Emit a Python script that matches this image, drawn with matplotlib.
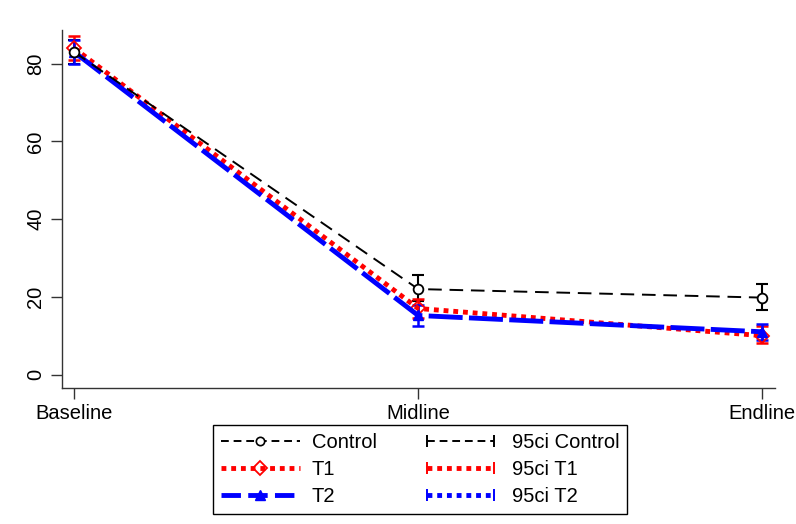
import matplotlib.pyplot as plt
from matplotlib.lines import Line2D
from matplotlib.legend_handler import HandlerLine2D

plt.rcParams['font.family'] = ['Liberation Sans', 'DejaVu Sans']

# Survey rounds and group means with 95% confidence intervals
rounds = ["Baseline", "Midline", "Endline"]
control = [83.0, 22.0, 19.8]
control_lo = [80.0, 18.8, 16.6]
control_hi = [86.0, 25.5, 23.2]
t1 = [84.0, 17.0, 10.0]
t1_lo = [81.0, 14.5, 8.0]
t1_hi = [87.0, 19.5, 12.5]
t2 = [83.0, 15.2, 11.0]
t2_lo = [80.0, 12.5, 9.0]
t2_hi = [86.0, 18.0, 13.0]

yticks = [0, 20, 40, 60, 80]

x = list(range(len(rounds)))

fig = plt.figure(figsize=(7.96, 5.24), dpi=100)
ax = fig.add_axes([0.078, 0.26, 0.896, 0.683])

# 95% CI caps
def ci(lo, hi, color, lw):
    mid = [(a + b) / 2 for a, b in zip(lo, hi)]
    err = [[m - a for m, a in zip(mid, lo)], [b - m for m, b in zip(mid, hi)]]
    ax.errorbar(x, mid, yerr=err, fmt='none', ecolor=color, elinewidth=lw,
                capsize=4, capthick=lw, zorder=2)

ci(control_lo, control_hi, 'black', 1.5)
ci(t1_lo, t1_hi, 'red', 1.8)
ci(t2_lo, t2_hi, 'blue', 1.8)

ax.plot(x, control, color='black', linestyle=(0, (7, 4)), linewidth=1.4,
        marker='o', markersize=7, markerfacecolor='white', markeredgewidth=1.3, zorder=4)
ax.plot(x, t1, color='red', linestyle=(0, (1, 1)), linewidth=3.5,
        marker='D', markersize=7, markerfacecolor='none', markeredgewidth=1.3, zorder=3)
ax.plot(x, t2, color='blue', linestyle=(0, (7, 1.3)), linewidth=3.5,
        marker='^', markersize=7, zorder=3)

ax.set_xlim(-0.035, 2.038)
ax.set_ylim(-3.4, 88.7)
ax.set_xticks(x)
ax.set_xticklabels(rounds, fontsize=14.5)
ax.set_yticks(yticks)
ax.set_yticklabels([str(v) for v in yticks], fontsize=14.5, rotation=90, va='center')
ax.tick_params(axis='both', length=8, width=1, color='#333333')
ax.tick_params(axis='x', pad=4)
ax.tick_params(axis='y', pad=4)
for side in ['top', 'right']:
    ax.spines[side].set_visible(False)
for side in ['left', 'bottom']:
    ax.spines[side].set_color('#333333')
    ax.spines[side].set_linewidth(1)

# Legend handles
h_control = Line2D([], [], color='black', linestyle=(0, (4, 2.5)), linewidth=1.4,
                   marker='o', markersize=6, markerfacecolor='white', markeredgewidth=1.2)
h_t1 = Line2D([], [], color='red', linestyle=(0, (1, 1)), linewidth=3.5,
              marker='D', markersize=7, markerfacecolor='none', markeredgewidth=1.3)
h_t2 = Line2D([], [], color='blue', linestyle=(0, (4, 1.5)), linewidth=3.5,
              marker='^', markersize=7)
h_ci_control = Line2D([], [], color='black', linestyle=(0, (4, 2.5)), linewidth=1.4,
                      marker='|', markersize=8, markeredgewidth=1.4)
h_ci_t1 = Line2D([], [], color='red', linestyle=(0, (1, 1)), linewidth=3.5,
                 marker='|', markersize=8, markeredgewidth=1.4)
h_ci_t2 = Line2D([], [], color='blue', linestyle=(0, (1, 1)), linewidth=3.5,
                 marker='|', markersize=8, markeredgewidth=1.4)

two = HandlerLine2D(numpoints=2)
leg = fig.legend(
    [h_control, h_t1, h_t2, h_ci_control, h_ci_t1, h_ci_t2],
    ["Control", "T1", "T2", "95ci Control", "95ci T1", "95ci T2"],
    handler_map={h_ci_control: two, h_ci_t1: two, h_ci_t2: two},
    ncol=2, loc='upper center', bbox_to_anchor=(0.528, 0.189), borderaxespad=0,
    fontsize=14.5, handlelength=3.9, handletextpad=0.6, columnspacing=2.2,
    labelspacing=0.4, borderpad=0.4, numpoints=1, fancybox=False,
    edgecolor='black', framealpha=1)
leg.get_frame().set_linewidth(1)

plt.savefig("out.png", dpi=100)
